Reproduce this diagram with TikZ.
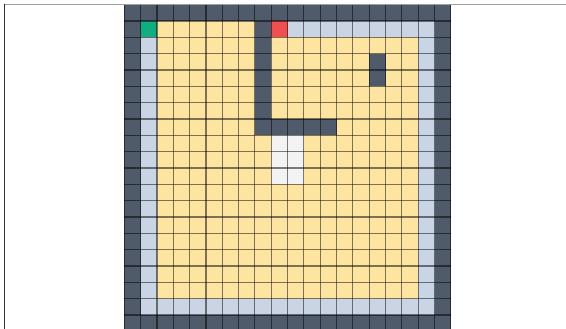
\documentclass[tikz,border=0pt]{standalone}
\definecolor{wallc}{HTML}{4F5A6A}
\definecolor{openc}{HTML}{FDE4A1}
\definecolor{edgec}{HTML}{C9D5E5}
\definecolor{startc}{HTML}{10AD80}
\definecolor{goalc}{HTML}{EF4F4F}
\definecolor{visitc}{HTML}{F3F3F3}
\begin{document}
\begin{tikzpicture}[x=1pt,y=-1pt,
  gridline/.style={draw=black,draw opacity=0.5,line width=1.1pt},
  framet/.style={draw=gray!75,line width=0.9pt},
  framel/.style={draw=black!80,line width=0.9pt}]
\useasboundingbox (0,0) rectangle (566,329);
\clip (0,0) rectangle (566,329);
\def\s{16.33}
\def\xo{124.3}
\def\yo{4.7}
\newcommand\cellfill[3]{\fill[#3] ({\xo+#1*\s},{\yo+#2*\s}) rectangle ++(\s,\s);}
% whole grid dark walls
\fill[wallc] (\xo,\yo) rectangle ({\xo+20*\s},{\yo+20*\s});
% light blue ring
\fill[edgec] ({\xo+1*\s},{\yo+1*\s}) rectangle ({\xo+19*\s},{\yo+19*\s});
% yellow interior
\fill[openc] ({\xo+2*\s},{\yo+2*\s}) rectangle ({\xo+18*\s},{\yo+18*\s});
\fill[openc] ({\xo+2*\s},{\yo+1*\s}) rectangle ({\xo+8*\s},{\yo+2*\s});
% internal walls
\fill[wallc] ({\xo+8*\s},{\yo+1*\s}) rectangle ({\xo+9*\s},{\yo+8*\s});
\fill[wallc] ({\xo+8*\s},{\yo+7*\s}) rectangle ({\xo+13*\s},{\yo+8*\s});
\fill[wallc] ({\xo+15*\s},{\yo+3*\s}) rectangle ({\xo+16*\s},{\yo+5*\s});
% visited (white) cells
\fill[visitc] ({\xo+9*\s},{\yo+8*\s}) rectangle ({\xo+11*\s},{\yo+11*\s});
% start and goal
\cellfill{1}{1}{startc}
\cellfill{9}{1}{goalc}
% grid lines
\foreach \i in {0,...,20}{
  \draw[gridline] ({\xo+\i*\s},\yo) -- ({\xo+\i*\s},{\yo+20*\s});
  \draw[gridline] (\xo,{\yo+\i*\s}) -- ({\xo+20*\s},{\yo+\i*\s});
}
% frame
\draw[framet] (4,4) -- (566,4);
\draw[framel] (4,4) -- (4,329);
\end{tikzpicture}
\end{document}
